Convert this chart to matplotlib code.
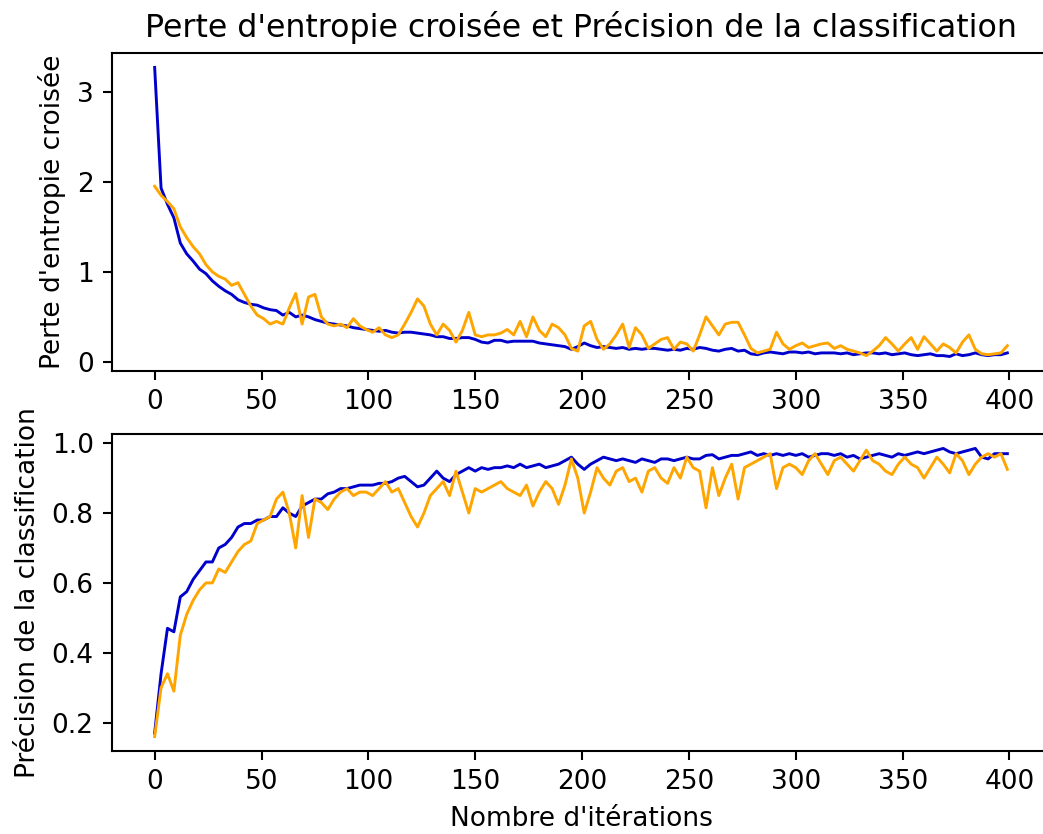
import numpy as np
import matplotlib
matplotlib.use("Agg")
import matplotlib.pyplot as plt

iterations = list(range(0, 400, 3))

train_loss = [
    3.27, 1.93, 1.75, 1.6, 1.32, 1.2, 1.12, 1.03, 0.98, 0.9,
    0.84, 0.79, 0.75, 0.69, 0.66, 0.64, 0.63, 0.6, 0.58, 0.57,
    0.52, 0.55, 0.5, 0.52, 0.5, 0.47, 0.45, 0.43, 0.42, 0.41,
    0.4, 0.38, 0.37, 0.36, 0.35, 0.34, 0.35, 0.33, 0.32, 0.33,
    0.33, 0.32, 0.31, 0.3, 0.28, 0.28, 0.26, 0.26, 0.27, 0.27,
    0.25, 0.22, 0.21, 0.24, 0.24, 0.22, 0.23, 0.23, 0.23, 0.23,
    0.21, 0.2, 0.19, 0.18, 0.17, 0.14, 0.17, 0.21, 0.18, 0.16,
    0.17, 0.16, 0.15, 0.16, 0.14, 0.15, 0.14, 0.15, 0.15, 0.14,
    0.13, 0.14, 0.13, 0.15, 0.14, 0.16, 0.15, 0.13, 0.12, 0.14,
    0.15, 0.12, 0.13, 0.09, 0.08, 0.1, 0.11, 0.1, 0.09, 0.11,
    0.11, 0.1, 0.11, 0.09, 0.1, 0.1, 0.1, 0.09, 0.1, 0.08,
    0.09, 0.1, 0.1, 0.09, 0.1, 0.08, 0.09, 0.1, 0.08, 0.07,
    0.08, 0.09, 0.07, 0.07, 0.06, 0.09, 0.07, 0.08, 0.1, 0.08,
    0.07, 0.08, 0.08, 0.1,
]

val_loss = [
    1.95, 1.85, 1.78, 1.7, 1.5, 1.38, 1.28, 1.2, 1.08, 1.0,
    0.95, 0.92, 0.85, 0.88, 0.75, 0.62, 0.52, 0.48, 0.42, 0.45,
    0.42, 0.6, 0.76, 0.42, 0.72, 0.75, 0.5, 0.42, 0.4, 0.42,
    0.38, 0.48, 0.4, 0.36, 0.33, 0.38, 0.3, 0.27, 0.3, 0.42,
    0.55, 0.7, 0.62, 0.42, 0.3, 0.42, 0.35, 0.22, 0.35, 0.55,
    0.3, 0.28, 0.3, 0.3, 0.32, 0.36, 0.3, 0.45, 0.28, 0.5,
    0.35, 0.28, 0.42, 0.38, 0.3, 0.15, 0.12, 0.4, 0.45, 0.25,
    0.14, 0.2, 0.3, 0.42, 0.16, 0.38, 0.3, 0.15, 0.2, 0.25,
    0.27, 0.14, 0.22, 0.2, 0.12, 0.3, 0.5, 0.4, 0.3, 0.42,
    0.44, 0.44, 0.3, 0.15, 0.1, 0.12, 0.14, 0.33, 0.2, 0.14,
    0.18, 0.21, 0.16, 0.18, 0.2, 0.21, 0.15, 0.18, 0.14, 0.12,
    0.1, 0.07, 0.12, 0.18, 0.27, 0.2, 0.12, 0.2, 0.27, 0.14,
    0.28, 0.2, 0.12, 0.2, 0.16, 0.1, 0.22, 0.3, 0.14, 0.09,
    0.08, 0.09, 0.1, 0.18,
]

train_acc = [
    0.17, 0.34, 0.47, 0.46, 0.56, 0.575, 0.61, 0.635, 0.66, 0.66,
    0.7, 0.71, 0.73, 0.76, 0.77, 0.77, 0.78, 0.78, 0.79, 0.79,
    0.815, 0.8, 0.79, 0.82, 0.83, 0.84, 0.84, 0.855, 0.86, 0.87,
    0.87, 0.875, 0.88, 0.88, 0.88, 0.885, 0.885, 0.89, 0.9, 0.905,
    0.89, 0.875, 0.88, 0.9, 0.92, 0.9, 0.89, 0.91, 0.92, 0.93,
    0.92, 0.93, 0.925, 0.93, 0.93, 0.935, 0.93, 0.94, 0.93, 0.935,
    0.94, 0.93, 0.935, 0.94, 0.95, 0.96, 0.94, 0.925, 0.94, 0.95,
    0.96, 0.955, 0.95, 0.955, 0.95, 0.945, 0.955, 0.95, 0.945, 0.955,
    0.955, 0.95, 0.955, 0.96, 0.955, 0.955, 0.965, 0.967, 0.955, 0.96,
    0.965, 0.965, 0.97, 0.975, 0.965, 0.97, 0.965, 0.97, 0.965, 0.97,
    0.965, 0.97, 0.96, 0.965, 0.97, 0.97, 0.965, 0.97, 0.96, 0.965,
    0.955, 0.96, 0.965, 0.97, 0.965, 0.96, 0.97, 0.965, 0.97, 0.975,
    0.97, 0.975, 0.98, 0.985, 0.975, 0.97, 0.975, 0.98, 0.985, 0.96,
    0.955, 0.97, 0.97, 0.97,
]

val_acc = [
    0.16, 0.3, 0.34, 0.29, 0.45, 0.51, 0.55, 0.58, 0.6, 0.6,
    0.64, 0.63, 0.66, 0.69, 0.71, 0.72, 0.77, 0.78, 0.79, 0.84,
    0.86, 0.8, 0.7, 0.85, 0.73, 0.84, 0.83, 0.81, 0.84, 0.86,
    0.87, 0.85, 0.86, 0.86, 0.85, 0.87, 0.89, 0.86, 0.87, 0.83,
    0.79, 0.76, 0.8, 0.85, 0.87, 0.89, 0.85, 0.92, 0.86, 0.8,
    0.87, 0.86, 0.87, 0.88, 0.89, 0.87, 0.86, 0.85, 0.88, 0.82,
    0.86, 0.89, 0.87, 0.825, 0.88, 0.955, 0.9, 0.8, 0.86, 0.93,
    0.9, 0.88, 0.92, 0.93, 0.89, 0.9, 0.86, 0.92, 0.93, 0.9,
    0.885, 0.93, 0.9, 0.96, 0.93, 0.92, 0.815, 0.93, 0.85, 0.9,
    0.94, 0.84, 0.93, 0.94, 0.95, 0.96, 0.97, 0.87, 0.93, 0.94,
    0.93, 0.91, 0.95, 0.97, 0.94, 0.91, 0.95, 0.96, 0.94, 0.92,
    0.95, 0.98, 0.95, 0.94, 0.92, 0.91, 0.94, 0.96, 0.94, 0.93,
    0.9, 0.93, 0.96, 0.94, 0.915, 0.97, 0.95, 0.91, 0.94, 0.96,
    0.97, 0.96, 0.97, 0.925,
]

plt.rcParams['font.family'] = ['DejaVu Sans']
plt.rcParams['font.size'] = 19

fig = plt.figure(figsize=(10.43, 8.34), dpi=100)
ax1 = fig.add_axes([0.1074, 0.5552, 0.8993, 0.3813])
ax2 = fig.add_axes([0.1074, 0.0995, 0.8993, 0.3801])

ax1.plot(iterations, train_loss, color='mediumblue', lw=2.1)
ax1.plot(iterations, val_loss, color='orange', lw=2.1)
ax1.set_ylabel("Perte d'entropie croisée", labelpad=7.6)
ax1.set_title("Perte d'entropie croisée et Précision de la classification",
              fontsize=22.8, pad=11.4)

ax2.plot(iterations, train_acc, color='mediumblue', lw=2.1)
ax2.plot(iterations, val_acc, color='orange', lw=2.1)
ax2.set_ylabel("Précision de la classification", labelpad=7.6)
ax2.set_xlabel("Nombre d'itérations", labelpad=7.6)

for ax in (ax1, ax2):
    ax.set_xticks([0, 50, 100, 150, 200, 250, 300, 350, 400])
    ax.tick_params(length=6.6, width=1.5, pad=6.6, labelsize=19)
    for s in ax.spines.values():
        s.set_linewidth(1.5)
    # right edge of the frame falls outside the picture
    ax.spines['right'].set_visible(False)
ax2.set_yticks([0.2, 0.4, 0.6, 0.8, 1.0])

fig.savefig("out.png", dpi=100)
